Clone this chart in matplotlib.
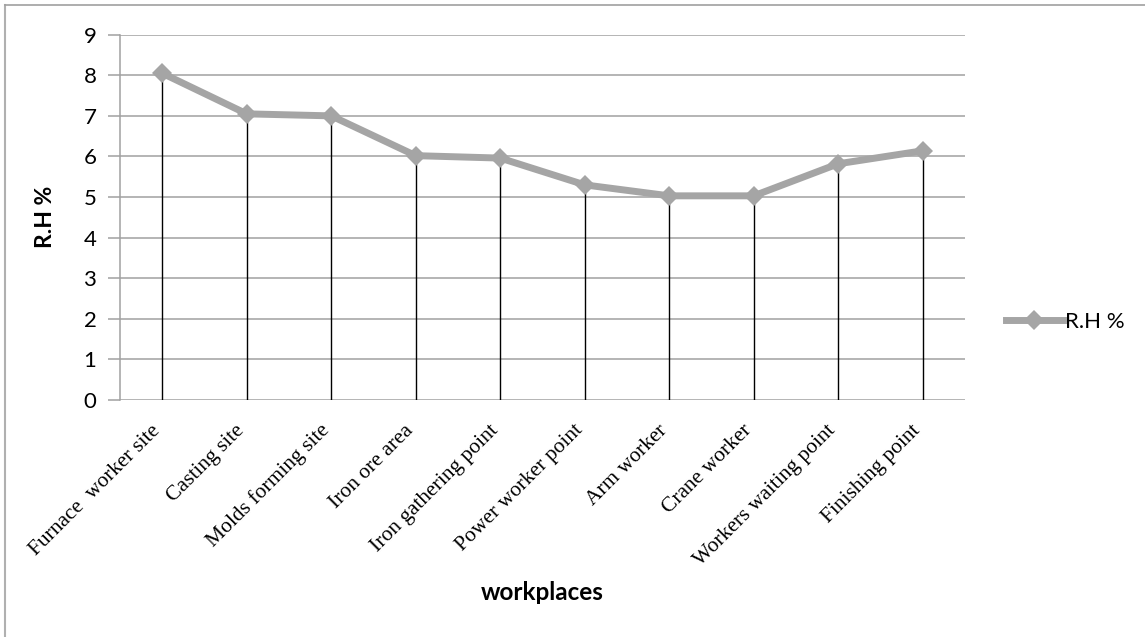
import matplotlib.pyplot as plt
import matplotlib.transforms as mtransforms
from matplotlib.lines import Line2D

# data
workplaces = ['Furnace  worker site', 'Casting site', 'Molds forming site',
              'Iron ore area', 'Iron gathering point', 'Power worker point',
              'Arm worker', 'Crane worker', 'Workers waiting point',
              'Finishing point']
rh_values = [8.05, 7.05, 7.0, 6.02, 5.96, 5.3, 5.03, 5.03, 5.82, 6.14]
y_ticks = list(range(0, 10))

W, H = 1145, 637
fig = plt.figure(figsize=(W / 100, H / 100), dpi=100)
ax = fig.add_axes([120 / W, 1 - 400 / H, 845 / W, 365.3 / H])

x = list(range(len(workplaces)))
grid_col = '#a0a0a0'
line_col = '#a5a5a5'

for yv in y_ticks:
    ax.axhline(yv, color=grid_col, lw=1.1, zorder=1)
ax.vlines(x, 0, rh_values, color='black', lw=1.0, zorder=2)
ax.plot(x, rh_values, color=line_col, lw=5, marker='D', markersize=10,
        markeredgewidth=0, solid_joinstyle='miter', zorder=3)

ax.set_xlim(-0.5, len(workplaces) - 0.5)
ax.set_ylim(0, 9)
ax.set_yticks(y_ticks)
ax.set_yticklabels([str(v) for v in y_ticks], fontsize=16, family='Lato')
ax.tick_params(axis='y', length=9, color=grid_col, width=1.1, pad=8)
ax.set_xticks(x)
ax.set_xticklabels(workplaces, rotation=45, ha='right', va='center',
                   rotation_mode='anchor', fontsize=15.5,
                   family='Liberation Serif')
ax.tick_params(axis='x', length=0, pad=20)
shift = mtransforms.ScaledTranslation(-5 / 100, 0, fig.dpi_scale_trans)
for lab in ax.get_xticklabels():
    lab.set_transform(lab.get_transform() + shift)

for side in ['top', 'right', 'bottom']:
    ax.spines[side].set_visible(False)
ax.spines['left'].set_color(grid_col)
ax.spines['left'].set_linewidth(1.1)

ax.set_ylabel('R.H %', fontsize=16.5, fontweight='bold', family='Lato')
ax.yaxis.set_label_coords((56 - 120) / 845, 0.5)
fig.text(542 / W, 1 - 592 / H, 'workplaces', fontsize=17.5, fontweight='bold',
         family='Lato', ha='center', va='center')

# legend on the right
handle = Line2D([], [], color=line_col, lw=5, marker='D', markersize=10,
                markeredgewidth=0)
fig.legend([handle], ['R.H %'], loc='center left',
           bbox_to_anchor=(995 / W, 1 - 322 / H), frameon=False,
           prop={'family': 'Lato', 'size': 16}, handlelength=2.55,
           handletextpad=0.1, borderpad=0)

# outer chart border (left and top visible)
fig.add_artist(Line2D([5 / W, 5 / W], [0, 1 - 5 / H], transform=fig.transFigure,
                      color='#b0b0b0', lw=1.5))
fig.add_artist(Line2D([5 / W, 1], [1 - 5 / H, 1 - 5 / H], transform=fig.transFigure,
                      color='#a0a0a0', lw=1.2))

fig.savefig('out.png', dpi=100)
